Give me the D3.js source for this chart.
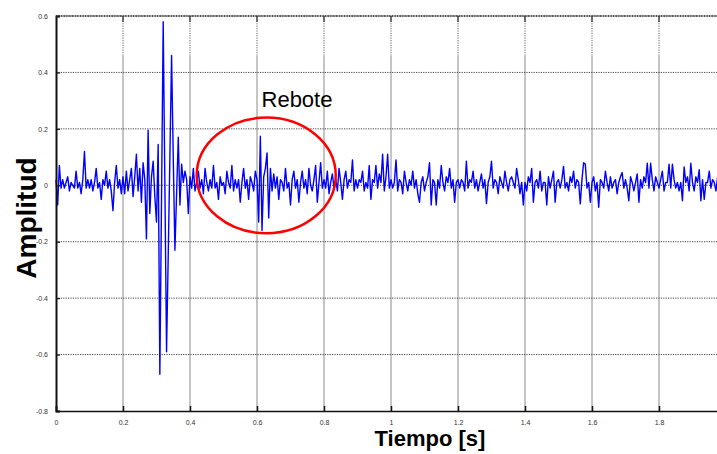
<!DOCTYPE html>
<html>
<head>
<meta charset="utf-8">
<script src="https://cdn.jsdelivr.net/npm/d3@7"></script>
<style>
  html, body { margin: 0; padding: 0; background: #fff; }
  svg { display: block; }
</style>
</head>
<body>
<svg id="chart" width="717" height="454"></svg>
<script>
// Sampling interval of the recorded signal (s)
const dt = 0.005;

// Recorded amplitude, one value per sample starting at t = 0
const amplitude = [
  // 0.00 - 0.095
  0.02,-0.07,0.07,-0.01,0.02,-0.01,0.01,0.03,-0.02,0.01,0.00,-0.01,0.05,-0.01,0.01,-0.03,0.02,0.12,-0.01,0.02,
  // 0.10 - 0.195
  -0.01,0.02,-0.02,0.01,0.06,-0.01,0.01,-0.05,0.02,0.00,0.05,-0.01,0.02,-0.02,-0.09,0.01,0.07,-0.01,0.02,-0.03,
  // 0.20 - 0.295
  0.03,-0.03,0.05,-0.02,0.02,0.06,-0.04,0.03,0.11,-0.02,0.06,-0.06,0.08,0.02,-0.19,0.195,-0.10,0.03,0.085,-0.04,
  // 0.30 - 0.395 : main impact
  -0.13,0.145,-0.67,-0.05,0.58,0.00,-0.59,-0.25,0.10,0.46,0.10,-0.23,-0.03,0.17,-0.07,0.075,0.01,0.05,0.02,-0.10,
  // 0.40 - 0.495
  0.03,-0.01,0.06,-0.02,0.01,0.05,-0.01,0.02,-0.03,0.06,0.01,-0.02,0.02,-0.01,0.07,-0.01,0.01,-0.05,0.03,0.00,
  // 0.50 - 0.595
  0.01,-0.03,0.05,0.01,-0.01,0.07,-0.02,0.02,-0.01,0.02,-0.06,0.01,0.06,-0.01,0.02,-0.05,0.03,0.01,-0.02,0.05,
  // 0.60 - 0.695 : rebound
  0.02,-0.13,0.174,-0.16,0.03,0.06,0.115,-0.116,0.06,-0.02,0.04,-0.01,0.03,-0.05,0.02,0.01,-0.02,0.06,-0.01,0.01,
  // 0.70 - 0.795
  -0.07,0.02,0.05,-0.01,0.02,-0.06,0.01,0.05,-0.01,0.02,-0.03,0.06,0.00,-0.02,0.02,0.07,-0.06,0.01,0.08,-0.01,
  // 0.80 - 0.895
  0.02,-0.01,0.05,-0.03,0.01,0.04,-0.01,0.02,-0.02,0.06,0.01,-0.05,0.02,0.05,-0.01,0.02,0.01,0.09,-0.02,0.02,
  // 0.90 - 0.995
  -0.01,0.02,0.01,0.05,-0.02,0.01,-0.01,0.07,-0.05,0.02,0.01,0.07,-0.01,0.04,0.01,0.11,-0.02,0.03,0.11,-0.01,
  // 1.00 - 1.095
  0.02,-0.01,0.01,0.09,-0.02,0.02,0.01,-0.03,0.05,0.01,-0.02,0.02,0.00,0.05,-0.01,0.02,-0.03,-0.06,0.01,0.03,
  // 1.10 - 1.195
  -0.02,0.01,0.03,0.08,-0.07,0.02,0.01,-0.07,0.02,-0.01,0.07,0.01,-0.02,0.03,0.01,0.06,-0.01,0.02,-0.06,0.01,
  // 1.20 - 1.295
  0.02,-0.01,0.02,0.01,-0.02,0.085,-0.01,0.02,0.01,0.05,-0.01,0.02,-0.02,0.01,0.04,-0.01,0.02,-0.065,0.01,0.03,
  // 1.30 - 1.395
  0.085,-0.01,0.02,0.01,-0.03,0.03,0.01,-0.01,0.05,0.01,-0.02,0.02,0.03,0.01,-0.01,0.06,0.02,-0.03,0.01,-0.07,
  // 1.40 - 1.495
  0.01,-0.02,0.03,0.01,0.06,-0.06,0.01,0.02,-0.01,0.05,-0.02,0.01,0.01,-0.07,0.03,-0.01,0.02,0.05,-0.06,0.01,
  // 1.50 - 1.595
  0.02,-0.01,0.02,0.067,-0.01,0.01,-0.02,0.03,0.01,0.05,-0.01,0.02,0.01,-0.066,0.02,0.08,0.075,-0.01,0.01,-0.06,
  // 1.60 - 1.695
  0.01,0.03,-0.02,0.01,-0.078,0.02,0.01,-0.01,0.05,0.01,-0.02,0.03,-0.01,0.01,0.02,-0.03,0.01,0.03,0.045,-0.01,
  // 1.70 - 1.795
  0.02,-0.01,-0.055,0.03,0.01,-0.02,0.01,0.04,-0.06,0.02,-0.01,0.03,0.01,0.078,-0.01,0.078,0.02,-0.02,0.03,0.01,
  // 1.80 - 1.895
  -0.01,0.02,0.05,-0.02,0.01,0.01,0.075,-0.01,0.075,0.02,-0.01,0.01,-0.02,0.01,-0.055,0.065,0.01,0.03,-0.02,0.078,
  // 1.90 - 2.00
  0.01,-0.02,0.03,0.01,0.055,-0.055,0.02,-0.05,0.01,0.01,0.05,-0.01,0.02,0.01,-0.02,0.03,0.01,-0.01,0.02,0.01,
  0.02
];

// Axis ticks
const xTicks = [0, 0.2, 0.4, 0.6, 0.8, 1, 1.2, 1.4, 1.6, 1.8];
const xTickLabels = ["0", "0.2", "0.4", "0.6", "0.8", "1", "1.2", "1.4", "1.6", "1.8"];
const yTicks = [0.6, 0.4, 0.2, 0, -0.2, -0.4, -0.6, -0.8];
const yTickLabels = ["0.6", "0.4", "0.2", "0", "-0.2", "-0.4", "-0.6", "-0.8"];

// Highlighted rebound region (time / amplitude extents) and its label
const reboundLabel = "Rebote";
const reboundT = [0.42, 0.835];
const reboundA = [0.24, -0.17];

const xTitle = "Tiempo [s]";
const yTitle = "Amplitud";

const svg = d3.select("#chart");
const plot = { left: 56, right: 726, top: 16, bottom: 411 };

const x = d3.scaleLinear().domain([0, 2]).range([plot.left, plot.right]);
const y = d3.scaleLinear().domain([-0.8, 0.6]).range([plot.bottom, plot.top]);

const FONT = "'Liberation Sans', Arial, Helvetica, sans-serif";

// Vertical grid lines: dotted near the top frame, solid grey below
const vGrid = svg.append("g");
vGrid.selectAll("line.solid")
  .data(xTicks.filter(d => d > 0))
  .join("line")
  .attr("class", "solid")
  .attr("x1", d => x(d)).attr("x2", d => x(d))
  .attr("y1", plot.top + 40).attr("y2", plot.bottom)
  .attr("stroke", "#8a8a8a").attr("stroke-width", 1);
vGrid.selectAll("line.dots")
  .data(xTicks.filter(d => d > 0))
  .join("line")
  .attr("class", "dots")
  .attr("x1", d => x(d)).attr("x2", d => x(d))
  .attr("y1", plot.top).attr("y2", plot.top + 40)
  .attr("stroke", "#666").attr("stroke-width", 1)
  .attr("stroke-dasharray", "1.2,1.2");

// Horizontal grid lines (dotted)
svg.append("g").selectAll("line")
  .data(yTicks.filter(d => d > -0.8))
  .join("line")
  .attr("x1", plot.left).attr("x2", plot.right)
  .attr("y1", d => y(d)).attr("y2", d => y(d))
  .attr("stroke", "#444").attr("stroke-width", 1)
  .attr("stroke-dasharray", "1.2,1.2");

// Signal trace
const line = d3.line()
  .x((d, i) => x(i * dt))
  .y(d => y(d));

svg.append("path")
  .datum(amplitude)
  .attr("d", line)
  .attr("fill", "none")
  .attr("stroke", "#0000ff")
  .attr("stroke-width", 1.4)
  .attr("stroke-linejoin", "round");

// Axes
const xAxis = d3.axisBottom(x)
  .tickValues(xTicks)
  .tickFormat((d, i) => xTickLabels[i])
  .tickSize(-5)
  .tickPadding(9);

const gx = svg.append("g")
  .attr("transform", `translate(0,${plot.bottom})`)
  .call(xAxis);
gx.select(".domain").attr("stroke", "#111").attr("stroke-width", 1.6);
gx.selectAll(".tick line").attr("stroke", "#111").attr("stroke-width", 1.5);
gx.selectAll("text")
  .attr("font-family", FONT).attr("font-size", 7).attr("fill", "#333");

const yAxis = d3.axisLeft(y)
  .tickValues(yTicks)
  .tickFormat((d, i) => yTickLabels[i])
  .tickSize(-4)
  .tickPadding(8);

const gy = svg.append("g")
  .attr("transform", `translate(${plot.left},0)`)
  .call(yAxis);
gy.select(".domain").attr("stroke", "#111").attr("stroke-width", 2);
gy.selectAll(".tick line").attr("stroke", "#111").attr("stroke-width", 1.2);
gy.selectAll("text")
  .attr("font-family", FONT).attr("font-size", 7).attr("fill", "#333");

// Top frame (dotted) with short downward ticks
svg.append("line")
  .attr("x1", plot.left).attr("x2", plot.right)
  .attr("y1", plot.top).attr("y2", plot.top)
  .attr("stroke", "#333").attr("stroke-width", 1.6)
  .attr("stroke-dasharray", "1,0.6");
svg.append("g").selectAll("line")
  .data(xTicks.filter(d => d > 0))
  .join("line")
  .attr("x1", d => x(d)).attr("x2", d => x(d))
  .attr("y1", plot.top).attr("y2", plot.top + 6)
  .attr("stroke", "#333").attr("stroke-width", 1.3);

// Rebound highlight
const cx = x((reboundT[0] + reboundT[1]) / 2);
const cy = y((reboundA[0] + reboundA[1]) / 2);
svg.append("ellipse")
  .attr("cx", cx).attr("cy", cy)
  .attr("rx", (x(reboundT[1]) - x(reboundT[0])) / 2)
  .attr("ry", (y(reboundA[1]) - y(reboundA[0])) / 2)
  .attr("fill", "none")
  .attr("stroke", "#ff0000")
  .attr("stroke-width", 2.5);

svg.append("text")
  .attr("x", 297).attr("y", 107)
  .attr("text-anchor", "middle")
  .attr("font-family", FONT).attr("font-size", 22)
  .attr("fill", "#000")
  .text(reboundLabel);

// Axis titles
svg.append("text")
  .attr("x", 430).attr("y", 446)
  .attr("text-anchor", "middle")
  .attr("font-family", FONT).attr("font-size", 22).attr("font-weight", "bold")
  .attr("fill", "#000")
  .text(xTitle);

svg.append("text")
  .attr("transform", "translate(36,218) rotate(-90)")
  .attr("text-anchor", "middle")
  .attr("font-family", FONT).attr("font-size", 28).attr("font-weight", "bold")
  .attr("fill", "#000")
  .text(yTitle);
</script>
</body>
</html>
